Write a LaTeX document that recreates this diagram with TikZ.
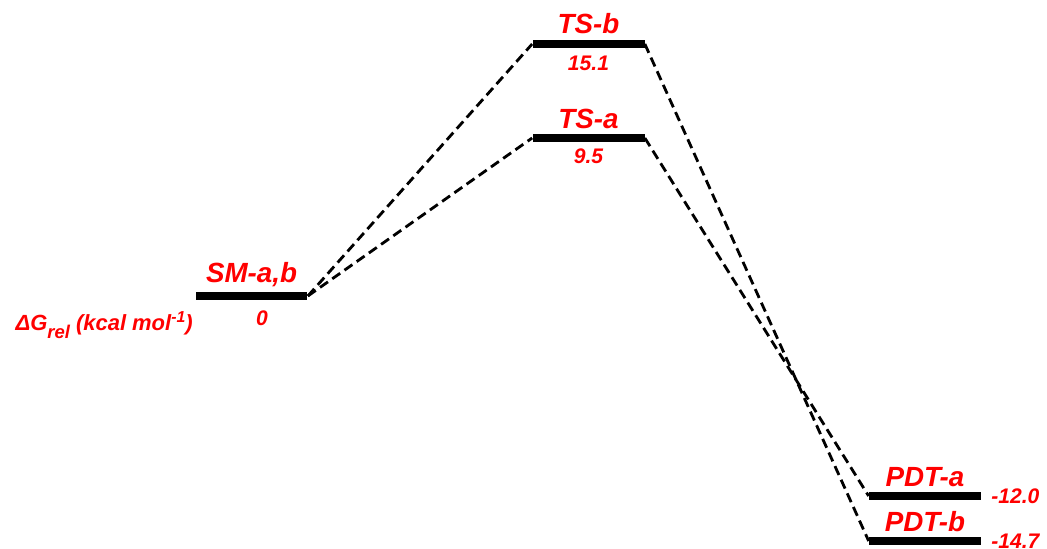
\documentclass[tikz,border=0pt]{standalone}
\usepackage{fontspec}
\setmainfont{Liberation Sans}
\definecolor{lvlRed}{RGB}{255, 0, 0}
\usepackage{tikz}
\usetikzlibrary{positioning}

\begin{document}
\begin{tikzpicture}[
    x=0.02cm, y=-0.02cm,
    levelbar/.style={rectangle, fill=black, inner sep=0pt,
                     minimum width=2.24cm, minimum height=0.16cm},
    statelbl/.style={text=lvlRed, inner sep=0pt, text depth=0pt,
                     font=\fontsize{15.8}{17}\selectfont\bfseries\itshape},
    energylbl/.style={text=lvlRed, inner sep=0pt, text height=8.6pt, text depth=0pt,
                      font=\fontsize{12}{14}\selectfont\bfseries\itshape},
    pathline/.style={draw=black, line width=1.6pt, dash pattern=on 5.5pt off 3pt},
  ]
    \useasboundingbox (0,0) rectangle (1047,548);

    % starting material
    \node[levelbar] (smbar) at (251.5,296) {};
    \node[statelbl, above=5pt of smbar] (smlbl) {SM-a,b};
    \node[energylbl, below=5.5pt of smbar, xshift=6pt] (smval) {0};
    \node[text=lvlRed, inner sep=0pt, anchor=base east,
          font=\fontsize{12.5}{14}\selectfont\bfseries\itshape] (dglbl) at (193,330)
      {ΔG\raisebox{-5pt}{\fontsize{10.5}{12}\selectfont rel} (kcal mol\raisebox{4pt}{\fontsize{9}{10}\selectfont -1})};

    % transition states
    \node[levelbar] (tsbbar) at (588.5,44) {};
    \node[statelbl, above=3.5pt of tsbbar] (tsblbl) {TS-b};
    \node[energylbl, below=4pt of tsbbar] (tsbval) {15.1};

    \node[levelbar] (tsabar) at (588.5,138) {};
    \node[statelbl, above=3pt of tsabar] (tsalbl) {TS-a};
    \node[energylbl, below=3.5pt of tsabar] (tsaval) {9.5};

    % products
    \node[levelbar] (pdtabar) at (925,496) {};
    \node[statelbl, above=3pt of pdtabar] (pdtalbl) {PDT-a};
    \node[energylbl, right=5.5pt of pdtabar] (pdtaval) {-12.0};

    \node[levelbar] (pdtbbar) at (925,541) {};
    \node[statelbl, above=3pt of pdtbbar] (pdtblbl) {PDT-b};
    \node[energylbl, right=5.5pt of pdtbbar] (pdtbval) {-14.7};

    % reaction paths
    \draw[pathline] (smbar.east) -- (tsbbar.west);
    \draw[pathline] (smbar.east) -- (tsabar.west);
    \draw[pathline] (tsbbar.east) -- (pdtbbar.west);
    \draw[pathline] (tsabar.east) -- (pdtabar.west);
  \end{tikzpicture}
\end{document}
